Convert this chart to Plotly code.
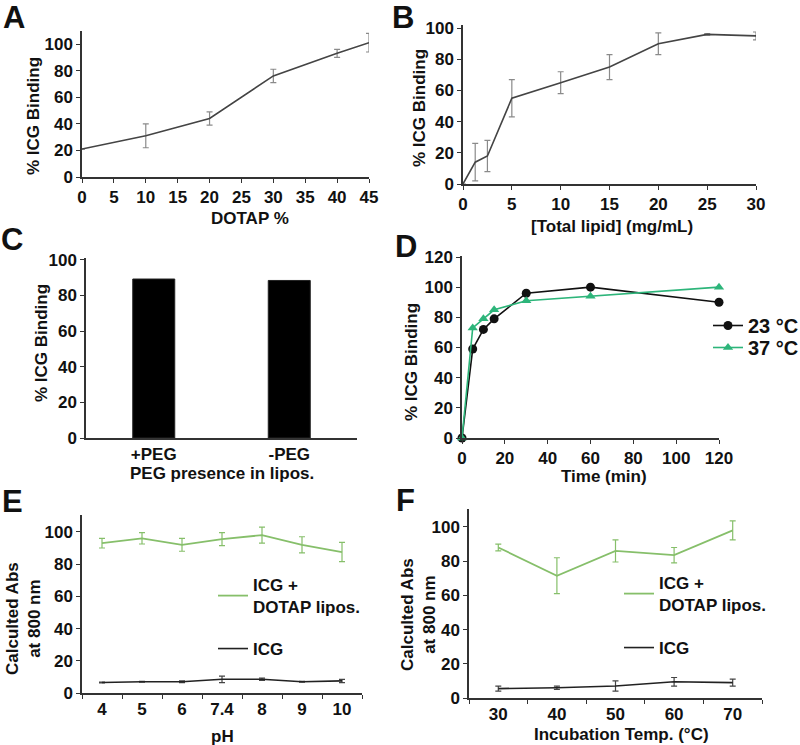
import plotly.graph_objects as go

W, H = 800, 745

# ---------------- data ----------------
a_dotap = [0, 10, 20, 30, 40, 45]
a_bind = [21, 31, 44, 76, 93, 101]
a_err = [0, 9, 5, 5, 3, 7]

b_lipid = [0, 1.25, 2.5, 5, 10, 15, 20, 25, 30]
b_bind = [0, 14, 18, 55, 65, 75, 90, 96, 95]
b_err = [0, 12, 10, 12, 7, 8, 7, 0.5, 2.5]

c_cat = ["+PEG", "-PEG"]
c_bind = [89.2, 88.4]

d_time = [0, 5, 10, 15, 30, 60, 120]
d_23 = [0, 59, 72, 79, 96, 100, 90]
d_37 = [0, 73, 79, 85, 91, 94, 100]

e_ph = ["4", "5", "6", "7.4", "8", "9", "10"]
e_lipo = [93, 96, 92, 95.5, 98, 92, 87.5]
e_lipo_err = [3, 3.5, 4, 4, 5, 5, 6]
e_icg = [6.5, 7, 7, 8.5, 8.5, 7, 7.5]
e_icg_err = [0.3, 0.3, 0.5, 2, 0.7, 0.3, 1]

f_temp = ["30", "40", "50", "60", "70"]
f_lipo = [88, 71.5, 86, 83.5, 98]
f_lipo_err = [2, 10.5, 6.5, 4.5, 5.5]
f_icg = [5.5, 6, 7, 9.5, 9]
f_icg_err = [1.5, 1, 3, 2.5, 2]

# ---------------- styles ----------------
FONT = "Liberation Sans, Arial, sans-serif"
AX = "#333333"
GRAY_LINE = "#444444"
ERR_GRAY = "#8a8a8a"
D_GREEN = "#2db57a"
L_GREEN = "#86bf6a"
TICKF = dict(family=FONT, size=17, color="#111111", weight="bold")


def xd(a, b):
    return [a / W, b / W]


def yd(top, bottom):
    return [1 - bottom / H, 1 - top / H]


def axis_common():
    return dict(showline=True, linecolor=AX, linewidth=1.5, ticks="outside",
                ticklen=4, tickwidth=1.2, tickcolor=AX, showgrid=False,
                zeroline=False, tickfont=TICKF, mirror=False, automargin=False)


fig = go.Figure()

# A
fig.add_trace(go.Scatter(x=a_dotap, y=a_bind, mode="lines",
                         line=dict(color=GRAY_LINE, width=1.6),
                         error_y=dict(type="data", array=a_err, color=ERR_GRAY, thickness=1.2, width=3),
                         xaxis="x", yaxis="y", showlegend=False, cliponaxis=False))
# B
fig.add_trace(go.Scatter(x=b_lipid, y=b_bind, mode="lines",
                         line=dict(color=GRAY_LINE, width=1.6),
                         error_y=dict(type="data", array=b_err, color=ERR_GRAY, thickness=1.2, width=3),
                         xaxis="x2", yaxis="y2", showlegend=False, cliponaxis=False))
# C
fig.add_trace(go.Bar(x=c_cat, y=c_bind, width=0.31, marker=dict(color="black", line=dict(color="#222", width=1)),
                     xaxis="x3", yaxis="y3", showlegend=False))
# D
fig.add_trace(go.Scatter(x=d_time, y=d_23, mode="lines+markers", name="23 °C",
                         line=dict(color="#111111", width=1.6),
                         marker=dict(symbol="circle", size=9, color="#111111"),
                         xaxis="x4", yaxis="y4", legend="legend", cliponaxis=False))
fig.add_trace(go.Scatter(x=d_time, y=d_37, mode="lines+markers", name="37 °C",
                         line=dict(color=D_GREEN, width=1.6),
                         marker=dict(symbol="triangle-up", size=9, color=D_GREEN),
                         xaxis="x4", yaxis="y4", legend="legend2", cliponaxis=False))
# E
fig.add_trace(go.Scatter(x=e_ph, y=e_lipo, mode="lines", name="ICG +<br>DOTAP lipos.",
                         line=dict(color=L_GREEN, width=1.8),
                         error_y=dict(type="data", array=e_lipo_err, color=L_GREEN, thickness=1.2, width=3),
                         xaxis="x5", yaxis="y5", legend="legend3", cliponaxis=False))
fig.add_trace(go.Scatter(x=e_ph, y=e_icg, mode="lines", name="ICG",
                         line=dict(color="#222222", width=1.6),
                         error_y=dict(type="data", array=e_icg_err, color="#444444", thickness=1.2, width=3),
                         xaxis="x5", yaxis="y5", legend="legend4", cliponaxis=False))
# F
fig.add_trace(go.Scatter(x=f_temp, y=f_lipo, mode="lines", name="ICG +<br>DOTAP lipos.",
                         line=dict(color=L_GREEN, width=1.8),
                         error_y=dict(type="data", array=f_lipo_err, color=L_GREEN, thickness=1.2, width=3),
                         xaxis="x6", yaxis="y6", legend="legend5", cliponaxis=False))
fig.add_trace(go.Scatter(x=f_temp, y=f_icg, mode="lines", name="ICG",
                         line=dict(color="#222222", width=1.6),
                         error_y=dict(type="data", array=f_icg_err, color="#444444", thickness=1.2, width=3),
                         xaxis="x6", yaxis="y6", legend="legend6", cliponaxis=False))

layout = dict(width=W, height=H, margin=dict(l=0, r=0, t=0, b=0, autoexpand=False),
              paper_bgcolor="white", plot_bgcolor="white",
              font=dict(family=FONT, color="#111111"))

# A axes
layout["xaxis"] = dict(axis_common(), domain=xd(82, 369), range=[0, 45], dtick=5, anchor="y")
layout["yaxis"] = dict(axis_common(), domain=yd(30.7, 177), range=[0, 110], tickvals=[0, 20, 40, 60, 80, 100], anchor="x")
# B axes
layout["xaxis2"] = dict(axis_common(), domain=xd(463, 756), range=[0, 30], dtick=5, anchor="y2")
layout["yaxis2"] = dict(axis_common(), domain=yd(25, 184), range=[0, 102], tickvals=[0, 20, 40, 60, 80, 100], anchor="x2")
# C axes
layout["xaxis3"] = dict(axis_common(), domain=xd(86, 357), range=[-0.5, 1.5], type="category", ticks="", anchor="y3")
layout["yaxis3"] = dict(axis_common(), domain=yd(258, 438), range=[0, 101], tickvals=[0, 20, 40, 60, 80, 100], anchor="x3")
# D axes
layout["xaxis4"] = dict(axis_common(), domain=xd(462, 719), range=[0, 120], dtick=20, anchor="y4")
layout["yaxis4"] = dict(axis_common(), domain=yd(255.5, 438), range=[0, 121], dtick=20, anchor="x4")
# E axes
layout["xaxis5"] = dict(axis_common(), domain=xd(82, 362), range=[-0.5, 6.5], type="category",
                        tickson="boundaries", anchor="y5")
layout["yaxis5"] = dict(axis_common(), domain=yd(515, 693), range=[0, 110.5], tickvals=[0, 20, 40, 60, 80, 100], anchor="x5")
# F axes
layout["xaxis6"] = dict(axis_common(), domain=xd(469, 762), range=[-0.5, 4.5], type="category",
                        tickson="boundaries", anchor="y6")
layout["yaxis6"] = dict(axis_common(), domain=yd(509, 698), range=[0, 110.5], tickvals=[0, 20, 40, 60, 80, 100], anchor="x6")

# legends (one per entry, for exact placement)
LEGF = dict(family=FONT, size=17, color="#111", weight="bold")
LEGD = dict(family=FONT, size=20, color="#111", weight="bold")


def leg(x, y, font):
    return dict(x=x / W, y=1 - y / H, xanchor="left", yanchor="top",
                bgcolor="rgba(0,0,0,0)", font=font, itemwidth=30)


layout["legend"] = leg(708, 306, LEGD)
layout["legend2"] = leg(708, 328, LEGD)
layout["legend3"] = leg(213, 567, LEGF)
layout["legend4"] = leg(213, 631, LEGF)
layout["legend5"] = leg(619, 565, LEGF)
layout["legend6"] = leg(619, 630, LEGF)

fig.update_layout(**layout)

# annotations: panel letters and axis titles
def ann(text, x, y, size=17, angle=0):
    fig.add_annotation(text=text, x=x / W, y=1 - y / H, xref="paper", yref="paper",
                       showarrow=False, textangle=angle, xanchor="center", yanchor="middle",
                       font=dict(family=FONT, size=size, color="#111", weight="bold"))

for letter, x, y in [("A", 14, 17), ("B", 403, 17), ("C", 12, 240), ("D", 406, 246), ("E", 12, 501), ("F", 405, 500)]:
    ann(letter, x, y, size=31)

ann("% ICG Binding", 34, 116, angle=-90)
ann("DOTAP %", 250, 218)
ann("% ICG Binding", 419, 108, angle=-90)
ann("[Total lipid] (mg/mL)", 612, 226)
ann("% ICG Binding", 42, 343, angle=-90)
ann("PEG presence in lipos.", 222, 473)
ann("% ICG Binding", 412, 362, angle=-90)
ann("Time (min)", 604, 476)
ann("Calculted Abs<br>at 800 nm", 23, 619, size=17, angle=-90)
ann("pH", 222, 736)
ann("Calculted Abs<br>at 800 nm", 418, 615, size=17, angle=-90)
ann("Incubation Temp. (°C)", 621, 734)

fig.write_html("out.html", config={"displayModeBar": False},
               post_script="document.body.style.margin='0px';")
